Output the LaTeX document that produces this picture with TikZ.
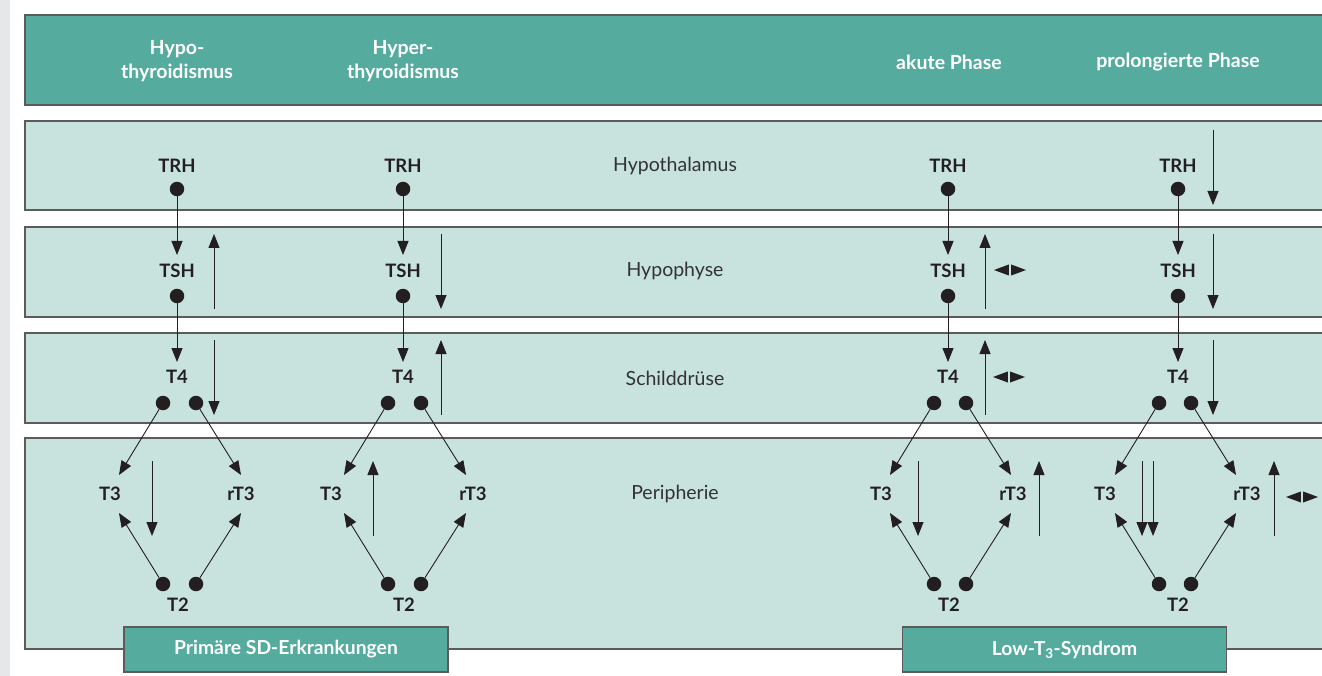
\documentclass[tikz,border=0pt]{standalone}
\usepackage{fontspec}
\setmainfont{Lato}
\usetikzlibrary{arrows.meta,calc}
\definecolor{tealhd}{HTML}{54AB9E}
\definecolor{lightrow}{HTML}{C8E2DE}
\definecolor{bord}{HTML}{5B5B5B}
\definecolor{ink}{HTML}{231F20}
\definecolor{rowtxt}{HTML}{333333}
\definecolor{stripgray}{HTML}{E6E7E9}
\begin{document}
\begin{tikzpicture}[x=1pt,y=-1pt,
  rowbox/.style={draw=bord,fill=lightrow,line width=1.2pt},
  hdrbox/.style={draw=bord,fill=tealhd,line width=1.2pt},
  dot/.style={circle,fill=ink,inner sep=0pt,minimum size=14.5pt},
  lbl/.style={text=ink,font=\bfseries\fontsize{18.5}{20}\selectfont,inner sep=2pt},
  hdr/.style={text=white,align=center,font=\bfseries\fontsize{19.5}{24}\selectfont},
  rowlbl/.style={text=rowtxt,font=\fontsize{19.5}{22}\selectfont},
  conn/.style={draw=ink,line width=0.9pt,-{Triangle[length=14pt,width=11pt]}},
  botbox/.style={draw=bord,fill=tealhd,line width=1.2pt,text=white,
     font=\bfseries\fontsize{19.3}{20}\selectfont,minimum width=324pt,minimum height=45pt},
  bidir/.pic={\fill[ink] (-16,0) -- (-1.2,-5.5) -- (-1.2,5.5) -- cycle;
              \fill[ink] (16,0) -- (1.2,-5.5) -- (1.2,5.5) -- cycle;}
]
\useasboundingbox (0,0) rectangle (1322,676);
\clip (0,0) rectangle (1322,676);
\fill[white] (0,0) rectangle (1322,676);
\fill[stripgray] (0,0) rectangle (10,676);

% bands
\draw[hdrbox] (25,15) rectangle (1340,105);
\draw[rowbox] (25,121) rectangle (1340,210);
\draw[rowbox] (25,227) rectangle (1340,317);
\draw[rowbox] (25,333) rectangle (1340,423);
\draw[rowbox] (25,438) rectangle (1340,649);

% headers
\node[hdr] (h1) at (177,61) {Hypo-\\thyroidismus};
\node[hdr] (h2) at (403,61) {Hyper-\\thyroidismus};
\node[hdr] (h3) at (949,62) {akute Phase};
\node[hdr] (h4) at (1178,62) {prolongierte Phase};

% row labels
\node[rowlbl] (r1) at (675,166) {Hypothalamus};
\node[rowlbl] (r2) at (675,271) {Hypophyse};
\node[rowlbl] (r3) at (675,378) {Schilddrüse};
\node[rowlbl] (r4) at (675,494) {Peripherie};

% columns
\foreach \i/\X/\L/\R/\A/\B/\T in {1/177/163/196/110/241/178, 2/403/388/421/331/473/404, 3/948/934/966/881/1013/949, 4/1178/1159/1191/1105/1247/1178} {
  \node[lbl] (trhl\i) at (\X,166) {TRH};
  \node[dot] (trh\i) at (\X,189) {};
  \node[lbl] (tshl\i) at (\X,271) {TSH};
  \node[dot] (tsh\i) at (\X,296) {};
  \node[lbl] (t4l\i) at (\X,377) {T4};
  \node[dot] (t4a\i) at (\L,403) {};
  \node[dot] (t4b\i) at (\R,403) {};
  \node[lbl] (t3\i) at (\A,494) {T3};
  \node[lbl] (rt3\i) at (\B,494) {rT3};
  \node[dot] (t2a\i) at (\L,584) {};
  \node[dot] (t2b\i) at (\R,584) {};
  \node[lbl] (t2l\i) at (\T,605) {T2};
  \draw[conn] (trh\i) -- ($(tshl\i)+(0,-16)$);
  \draw[conn] (tsh\i) -- ($(t4l\i)+(0,-15)$);
  \draw[conn] (t4a\i) -- ($(t3\i)+(\L-44-\A,-19)$);
  \draw[conn] (t4b\i) -- ($(rt3\i)+(\R+45-\B,-19)$);
  \draw[conn] (t2a\i) -- ($(t3\i)+(\L-44-\A,19)$);
  \draw[conn] (t2b\i) -- ($(rt3\i)+(\R+45-\B,19)$);
}

% change indicators
% column 1
\draw[conn] (214,309) -- (214,234);
\draw[conn] (214,340) -- (214,415);
\draw[conn] (152,461) -- (152,536);
% column 2
\draw[conn] (441,234) -- (441,309);
\draw[conn] (441,415) -- (441,340);
\draw[conn] (373,536) -- (373,461);
% column 3
\draw[conn] (985,309) -- (985,234);
\draw[conn] (985,415) -- (985,340);
\draw[conn] (918,461) -- (918,536);
\draw[conn] (1039,536) -- (1039,461);
\pic at (1010,270) {bidir};
\pic at (1009,377) {bidir};
% column 4
\draw[conn] (1213,130) -- (1213,205);
\draw[conn] (1213,234) -- (1213,309);
\draw[conn] (1213,340) -- (1213,415);
\draw[conn] (1142,461) -- (1142,536);
\draw[conn] (1153,461) -- (1153,536);
\draw[conn] (1274,536) -- (1274,461);
\pic at (1302,497) {bidir};

% bottom boxes
\node[botbox] (b1) at (286,649.5) {Primäre SD-Erkrankungen};
\node[botbox] (b2) at (1064.5,649.5) {Low-T\textsubscript{3}-Syndrom};
\end{tikzpicture}
\end{document}
